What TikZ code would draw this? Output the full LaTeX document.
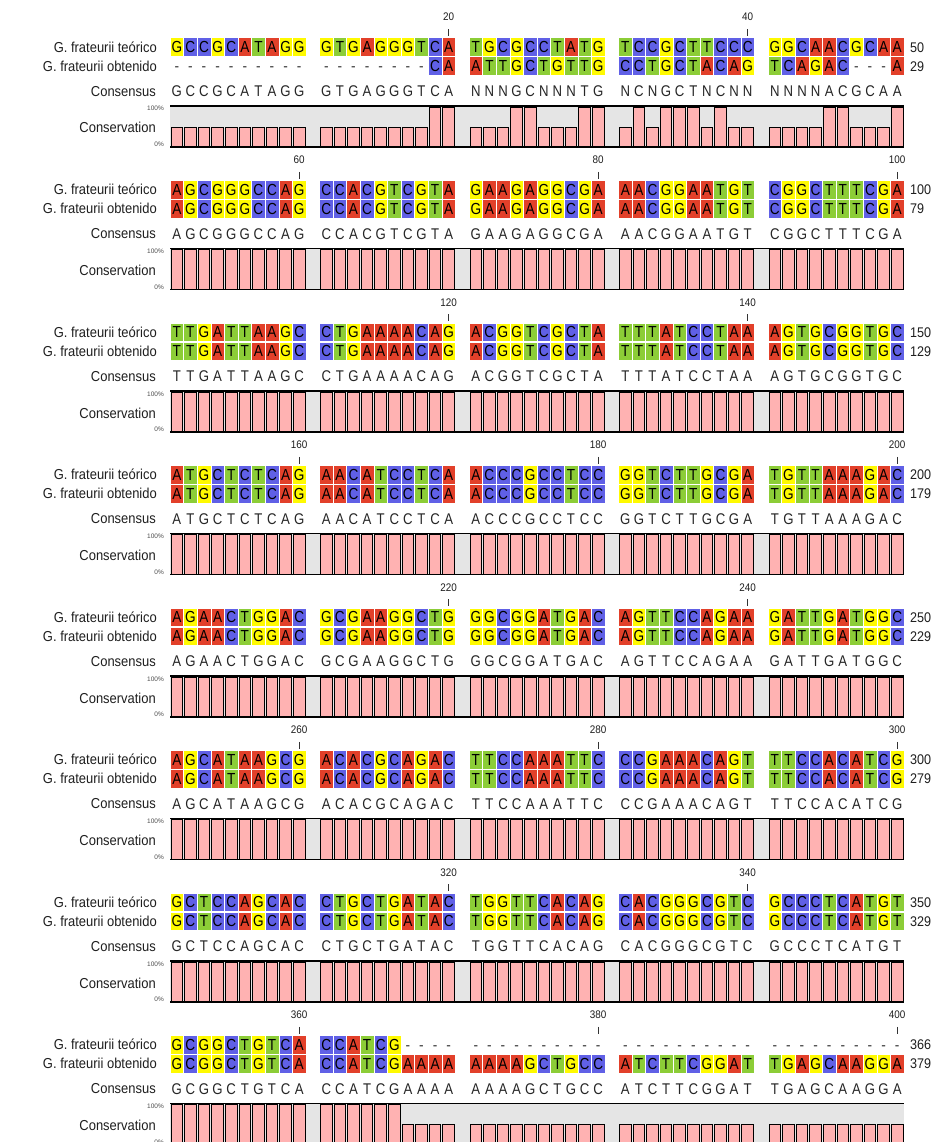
\documentclass[tikz,border=0pt]{standalone}
\usepackage{fontspec}
\setmainfont{Liberation Sans}
\newfontfamily\narrowsans[FakeStretch=0.9]{Liberation Sans}
\newfontfamily\basesans[FakeStretch=0.85]{Liberation Sans}

\definecolor{ntA}{RGB}{226,64,42}
\definecolor{ntC}{RGB}{96,96,230}
\definecolor{ntG}{RGB}{255,250,0}
\definecolor{ntT}{RGB}{140,205,55}
\definecolor{barpink}{RGB}{255,178,178}
\definecolor{consbg}{RGB}{229,229,229}

\newcommand\cellw{13.6}
\newcommand\cellh{18.5}
% left edge of cell #1 (0..49) in a block
\newcommand\cellx[1]{\pgfmathsetmacro\cx{170+149.5*int(#1/10)+\cellw*mod(#1,10)}}

% a row, read letter by letter
\newcommand\seqrow[4]{\let\rowcell#1\def\rowname{#2}\def\rowy{#3}\def\celli{0}\seqstep#4\relax}
\def\seqstep#1{\ifx\relax#1\else\rowcell{#1}\expandafter\seqstep\fi}

\newcommand\basecell[1]{%
  \cellx{\celli}%
  \if#1-%
    \node[gapchar] (\rowname\celli) at (\cx+\cellw/2,\rowy+5.7) {-};%
  \else
    \path[cellbox, fill=nt#1] (\cx,\rowy-\cellh/2) rectangle ++(\cellw,\cellh);%
    \node[basechar] (\rowname\celli) at (\cx+\cellw/2,\rowy+5.7) {#1};%
  \fi
  \pgfmathtruncatemacro\celli{\celli+1}}

\newcommand\conscell[1]{%
  \cellx{\celli}%
  \node[conschar] (\rowname\celli) at (\cx+\cellw/2,\rowy+5.5) {#1};%
  \pgfmathtruncatemacro\celli{\celli+1}}

\newcommand\barcell[1]{%
  \cellx{\celli}%
  \draw[consbar] (\cx+1,\rowy) rectangle (\cx+\cellw-1,\rowy-20*#1);%
  \pgfmathtruncatemacro\celli{\celli+1}}

% #1 block, #2 teorico, #3 obtenido, #4 consensus, #5 bars, #6 #7 ends, #8 ticks
\newcommand\block[8]{%
  \pgfmathsetmacro\by{142.5*#1}%
  \foreach \i/\n in {#8}{%
    \cellx{\i}%
    \node[ticklabel] (tick\n) at (\cx+\cellw/2,\by+21) {\n};
    \draw[tickmark] ([yshift=-8pt]tick\n.south) -- ++(0,7);
  }%
  \node[seqlabel] (teolab#1) at (157,\by+52.3) {G. frateurii teórico};
  \node[seqlabel] (obtlab#1) at (157,\by+71.3) {G. frateurii obtenido};
  \node[seqlabel] (conslab#1) at (156,\by+96.3) {Consensus};
  \node[seqlabel] (conslab#1) at (156,\by+133) {Conservation};
  \node[pctlabel] (top#1) at (164,\by+111) {100\%};
  \node[pctlabel] (low#1) at (164,\by+146.5) {0\%};
  \seqrow{\basecell}{teo#1c}{\by+47}{#2}%
  \seqrow{\basecell}{obt#1c}{\by+66}{#3}%
  \seqrow{\conscell}{cons#1c}{\by+91}{#4}%
  \fill[consbg] (170,\by+106) rectangle (904,\by+147);
  \seqrow{\barcell}{bar#1c}{\by+147}{#5}%
  \draw[consline] (170,\by+106) -- (904,\by+106);
  \draw[consline] (170,\by+147) -- (904,\by+147);
  \node[endnum] (teoend#1) at (910,\by+52.3) {#6};
  \node[endnum] (obtend#1) at (910,\by+71.3) {#7};
}

\begin{document}
\begin{tikzpicture}[x=1pt, y=-1pt,
  every node/.style={inner sep=0pt},
  seqlabel/.style={anchor=base east, text=black!88, font=\narrowsans\fontsize{14.4}{16}\selectfont},
  pctlabel/.style={anchor=base east, text=black!70, font=\fontsize{6.5}{8}\selectfont},
  endnum/.style={anchor=base west, text=black!88, font=\narrowsans\fontsize{14}{16}\selectfont},
  ticklabel/.style={anchor=base, text=black!88, font=\narrowsans\fontsize{11}{13}\selectfont},
  tickmark/.style={draw=black!80, line width=0.9pt},
  basechar/.style={anchor=base, text=black, font=\basesans\fontsize{16}{18}\selectfont},
  gapchar/.style={anchor=base, text=black!75, font=\basesans\fontsize{16}{18}\selectfont},
  conschar/.style={anchor=base, text=black!85, font=\basesans\fontsize{15.5}{18}\selectfont},
  cellbox/.style={draw=white, line width=0.5pt},
  consbar/.style={fill=barpink, draw=black, line width=0.9pt},
  consline/.style={draw=black, line width=1.4pt}
]
  \path[fill=white, use as bounding box] (0,0) rectangle (941,1142);

  \block{0}{GCCGCATAGG GTGAGGGTCA TGCGCCTATG TCCGCTTCCC GGCAACGCAA}
           {---------- --------CA ATTGCTGTTG CCTGCTACAG TCAGAC---A}
           {GCCGCATAGG GTGAGGGTCA NNNGCNNNTG NCNGCTNCNN NNNNACGCAA}
           {1111111111 1111111122 1112211122 1212221211 1111221112}
           {50}{29}{19/20,39/40}
  \block{1}{AGCGGGCCAG CCACGTCGTA GAAGAGGCGA AACGGAATGT CGGCTTTCGA}
           {AGCGGGCCAG CCACGTCGTA GAAGAGGCGA AACGGAATGT CGGCTTTCGA}
           {AGCGGGCCAG CCACGTCGTA GAAGAGGCGA AACGGAATGT CGGCTTTCGA}
           {2222222222 2222222222 2222222222 2222222222 2222222222}
           {100}{79}{9/60,29/80,49/100}
  \block{2}{TTGATTAAGC CTGAAAACAG ACGGTCGCTA TTTATCCTAA AGTGCGGTGC}
           {TTGATTAAGC CTGAAAACAG ACGGTCGCTA TTTATCCTAA AGTGCGGTGC}
           {TTGATTAAGC CTGAAAACAG ACGGTCGCTA TTTATCCTAA AGTGCGGTGC}
           {2222222222 2222222222 2222222222 2222222222 2222222222}
           {150}{129}{19/120,39/140}
  \block{3}{ATGCTCTCAG AACATCCTCA ACCCGCCTCC GGTCTTGCGA TGTTAAAGAC}
           {ATGCTCTCAG AACATCCTCA ACCCGCCTCC GGTCTTGCGA TGTTAAAGAC}
           {ATGCTCTCAG AACATCCTCA ACCCGCCTCC GGTCTTGCGA TGTTAAAGAC}
           {2222222222 2222222222 2222222222 2222222222 2222222222}
           {200}{179}{9/160,29/180,49/200}
  \block{4}{AGAACTGGAC GCGAAGGCTG GGCGGATGAC AGTTCCAGAA GATTGATGGC}
           {AGAACTGGAC GCGAAGGCTG GGCGGATGAC AGTTCCAGAA GATTGATGGC}
           {AGAACTGGAC GCGAAGGCTG GGCGGATGAC AGTTCCAGAA GATTGATGGC}
           {2222222222 2222222222 2222222222 2222222222 2222222222}
           {250}{229}{19/220,39/240}
  \block{5}{AGCATAAGCG ACACGCAGAC TTCCAAATTC CCGAAACAGT TTCCACATCG}
           {AGCATAAGCG ACACGCAGAC TTCCAAATTC CCGAAACAGT TTCCACATCG}
           {AGCATAAGCG ACACGCAGAC TTCCAAATTC CCGAAACAGT TTCCACATCG}
           {2222222222 2222222222 2222222222 2222222222 2222222222}
           {300}{279}{9/260,29/280,49/300}
  \block{6}{GCTCCAGCAC CTGCTGATAC TGGTTCACAG CACGGGCGTC GCCCTCATGT}
           {GCTCCAGCAC CTGCTGATAC TGGTTCACAG CACGGGCGTC GCCCTCATGT}
           {GCTCCAGCAC CTGCTGATAC TGGTTCACAG CACGGGCGTC GCCCTCATGT}
           {2222222222 2222222222 2222222222 2222222222 2222222222}
           {350}{329}{19/320,39/340}
  \block{7}{GCGGCTGTCA CCATCG---- ---------- ---------- ----------}
           {GCGGCTGTCA CCATCGAAAA AAAAGCTGCC ATCTTCGGAT TGAGCAAGGA}
           {GCGGCTGTCA CCATCGAAAA AAAAGCTGCC ATCTTCGGAT TGAGCAAGGA}
           {2222222222 2222221111 1111111111 1111111111 1111111111}
           {366}{379}{9/360,29/380,49/400}
\end{tikzpicture}
\end{document}
